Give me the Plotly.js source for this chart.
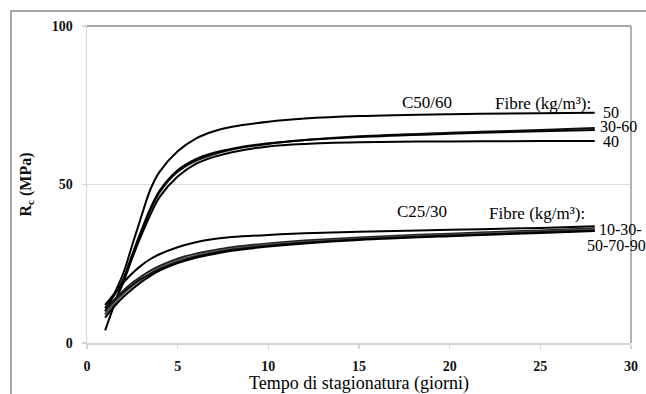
<!DOCTYPE html>
<html>
<head>
<meta charset="utf-8">
<script src="https://cdn.plot.ly/plotly-3.0.1.min.js"></script>
<style>html,body{margin:0;padding:0;background:#fff;}#chart{width:646px;height:394px;}</style>
</head>
<body>
<div id="chart"></div>
<script>
// Curing time (days)
const days = [1, 1.5, 2, 2.5, 3, 3.5, 4, 5, 6, 7, 8, 10, 12, 15, 20, 25, 28];

// C50/60 series (fibre kg/m3)
const c50_f50 = [10, 15.5, 22, 31, 40, 48.5, 54, 60.5, 64.5, 66.8, 68.2, 69.8, 70.8, 71.6, 72.2, 72.5, 72.6];
const c50_f30 = [9, 13, 19, 27, 35, 42, 47.5, 54, 57.5, 59.5, 61, 62.8, 64, 65.2, 66.3, 67.2, 67.8];
const c50_f60 = [4, 12, 20, 28, 35.5, 42.5, 48, 54.5, 58, 60, 61.3, 63, 64, 65, 66, 66.8, 67.2];
const c50_f40 = [11, 15, 20, 27, 34, 40.5, 46, 52.5, 56.5, 58.7, 60.2, 62, 62.8, 63.3, 63.6, 63.7, 63.7];

// C25/30 series (fibre kg/m3)
const c25_f10 = [12, 15.5, 19, 22, 24.5, 26.5, 28, 30.2, 31.8, 32.8, 33.4, 34.1, 34.6, 35.1, 35.7, 36.3, 36.8];
const c25_f30 = [10, 13.5, 16.5, 19, 21, 22.8, 24.3, 26.6, 28.2, 29.3, 30.2, 31.4, 32.3, 33.3, 34.5, 35.5, 36.2];
const c25_f50 = [9, 12.5, 15.5, 18, 20.2, 22, 23.6, 26, 27.6, 28.8, 29.7, 31, 31.9, 32.9, 34.1, 35.1, 35.8];
const c25_f70 = [11, 13.5, 16, 18.3, 20.2, 21.8, 23.3, 25.5, 27.2, 28.4, 29.4, 30.7, 31.6, 32.7, 33.9, 34.9, 35.5];
const c25_f90 = [8, 11.5, 14.5, 17, 19.3, 21.2, 22.8, 25.2, 26.9, 28.1, 29.1, 30.4, 31.4, 32.5, 33.7, 34.7, 35.3];

const xTicks = [0, 5, 10, 15, 20, 25, 30];
const yTicks = [0, 50, 100];

const series = [
  {name: 'C50/60 - 50', y: c50_f50, color: '#000'},
  {name: 'C50/60 - 30', y: c50_f30, color: '#111'},
  {name: 'C50/60 - 60', y: c50_f60, color: '#000'},
  {name: 'C50/60 - 40', y: c50_f40, color: '#000'},
  {name: 'C25/30 - 10', y: c25_f10, color: '#000'},
  {name: 'C25/30 - 30', y: c25_f30, color: '#222'},
  {name: 'C25/30 - 50', y: c25_f50, color: '#555'},
  {name: 'C25/30 - 70', y: c25_f70, color: '#111'},
  {name: 'C25/30 - 90', y: c25_f90, color: '#000'}
];

const traces = series.map(s => ({
  x: days, y: s.y, name: s.name, type: 'scatter', mode: 'lines',
  line: {color: s.color, width: 2, shape: 'spline', smoothing: 1},
  showlegend: false, hoverinfo: 'x+y'
}));

const serif = '"Liberation Serif", "Times New Roman", "DejaVu Serif", serif';
const annFont = {family: serif, size: 17, color: '#000'};
const endFont = {family: serif, size: 16, color: '#000'};

const layout = {
  width: 646, height: 394,
  margin: {l: 87, r: 15, t: 26, b: 51},
  paper_bgcolor: '#fff', plot_bgcolor: '#fff',
  showlegend: false,
  font: {family: serif},
  xaxis: {
    range: [0, 30], tickvals: xTicks, ticktext: xTicks.map(String),
    showgrid: false, zeroline: false, showline: true, linecolor: '#d4d4d4', linewidth: 1.5,
    ticks: 'outside', ticklen: 4, tickcolor: '#d4d4d4', tickwidth: 1.5,
    ticklabelstandoff: 6,
    tickfont: {family: serif, size: 14, color: '#111', weight: 'bold'},
    title: {text: 'Tempo di stagionatura (giorni)', font: {family: serif, size: 18, color: '#000'}, standoff: 2}
  },
  yaxis: {
    range: [0, 100], tickvals: yTicks, ticktext: yTicks.map(String),
    showgrid: true, gridcolor: '#dcdcdc', gridwidth: 1.5,
    zeroline: false, showline: true, linecolor: '#d4d4d4', linewidth: 1.5,
    ticks: 'outside', ticklen: 4, tickcolor: '#d4d4d4', tickwidth: 1.5,
    ticklabelstandoff: 6,
    tickfont: {family: serif, size: 14, color: '#111', weight: 'bold'},
    title: {text: 'R<sub>c</sub> (MPa)', font: {family: serif, size: 16, color: '#111', weight: 'bold'}, standoff: 16}
  },
  shapes: [
    {type: 'rect', xref: 'paper', yref: 'paper', x0: -0.1397, x1: 1.04, y0: -0.2, y1: 1.0473,
     line: {color: '#a8a8a8', width: 2}, fillcolor: 'rgba(0,0,0,0)', layer: 'below'},
    {type: 'line', xref: 'paper', yref: 'paper', x0: 0, x1: 1, y0: 1, y1: 1, line: {color: '#8a8a8a', width: 1.5}},
    {type: 'line', xref: 'paper', yref: 'paper', x0: 1, x1: 1, y0: 0, y1: 1, line: {color: '#9a9a9a', width: 1.5}}
  ],
  annotations: [
    {x: 18.75, y: 75.9, xref: 'x', yref: 'y', text: 'C50/60', showarrow: false, font: annFont, xanchor: 'center', yanchor: 'middle'},
    {x: 27.9, y: 75.7, xref: 'x', yref: 'y', text: 'Fibre (kg/m³):', showarrow: false, font: annFont, xanchor: 'right', yanchor: 'middle'},
    {x: 0.947, y: 0.728, xref: 'paper', yref: 'paper', text: '50', showarrow: false, font: endFont, xanchor: 'left', yanchor: 'middle', borderpad: 0},
    {x: 0.941, y: 0.682, xref: 'paper', yref: 'paper', text: '30-60', showarrow: false, font: endFont, xanchor: 'left', yanchor: 'middle', borderpad: 0},
    {x: 0.947, y: 0.636, xref: 'paper', yref: 'paper', text: '40', showarrow: false, font: endFont, xanchor: 'left', yanchor: 'middle', borderpad: 0},
    {x: 18.45, y: 41.4, xref: 'x', yref: 'y', text: 'C25/30', showarrow: false, font: annFont, xanchor: 'center', yanchor: 'middle'},
    {x: 27.6, y: 41.0, xref: 'x', yref: 'y', text: 'Fibre (kg/m³):', showarrow: false, font: annFont, xanchor: 'right', yanchor: 'middle'},
    {x: 0.939, y: 0.358, xref: 'paper', yref: 'paper', text: '10-30-', showarrow: false, font: endFont, xanchor: 'left', yanchor: 'middle', borderpad: 0},
    {x: 1.029, y: 0.307, xref: 'paper', yref: 'paper', text: '50-70-90', showarrow: false, font: endFont, xanchor: 'right', yanchor: 'middle', borderpad: 0}
  ]
};

Plotly.newPlot('chart', traces, layout, {displayModeBar: false, staticPlot: true});
</script>
</body>
</html>
